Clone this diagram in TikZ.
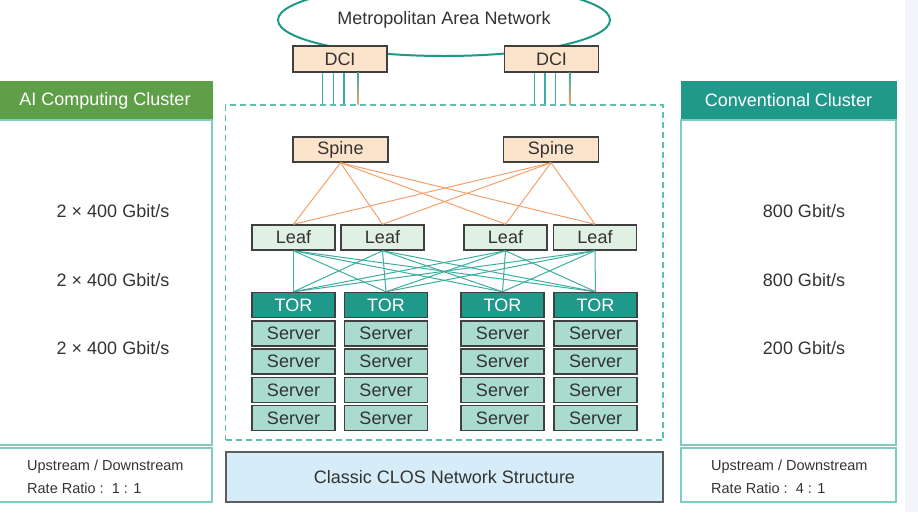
\documentclass[tikz,border=0pt]{standalone}
\usepackage{fontspec}
\setmainfont{Liberation Sans}
\usetikzlibrary{shapes.geometric}

\definecolor{inkgray}{HTML}{333333}
\definecolor{boxedge}{HTML}{404040}
\definecolor{peach}{HTML}{FCE3CB}
\definecolor{leafgreen}{HTML}{E0F0E3}
\definecolor{torteal}{HTML}{1F998A}
\definecolor{serverteal}{HTML}{A9DCCE}
\definecolor{linkorange}{HTML}{F5A06B}
\definecolor{linkteal}{HTML}{3BAE9F}
\definecolor{frameteal}{HTML}{5CBFB1}
\definecolor{aigreen}{HTML}{5E9F48}
\definecolor{panelteal}{HTML}{7FCDC2}
\definecolor{closblue}{HTML}{D6ECF8}
\definecolor{stripgray}{HTML}{F4F5FA}

\begin{document}
\begin{tikzpicture}[x=1pt, y=-1pt, font=\fontsize{18pt}{21pt}\selectfont, text=inkgray,
		device/.style={draw=boxedge, line width=1.5pt, inner sep=0pt, minimum height=25pt},
		dcibox/.style={device, fill=peach, minimum width=94pt, minimum height=26pt},
		spinebox/.style={device, fill=peach, minimum width=95pt},
		leafbox/.style={device, fill=leafgreen, minimum width=83pt},
		torbox/.style={device, fill=torteal, minimum width=83pt, text=white},
		serverbox/.style={device, fill=serverteal, minimum width=83pt},
		panel/.style={draw=panelteal, line width=1.5pt, inner sep=0pt},
		clusterhead/.style={inner sep=0pt, minimum height=39pt, text=white},
		rationote/.style={anchor=west, align=left, inner sep=0pt, font=\fontsize{14.5pt}{23pt}\selectfont},
		spinelink/.style={draw=linkorange, line width=1pt},
		leaflink/.style={draw=linkteal, line width=1pt}]
		\useasboundingbox (0,0) rectangle (918,512);
		\clip (0,0) rectangle (918,512);
		\fill[stripgray] (905,0) rectangle (918,512);

		% --- left panel: AI computing cluster ---
		\node[clusterhead, fill=aigreen, draw=aigreen, minimum width=214pt] (aihead) at (105,100.5) {AI Computing Cluster};
		\node[panel, minimum width=214pt, minimum height=325pt] (aibody) at (105,282.5) {};
		\node[panel, minimum width=214pt, minimum height=54pt] (airatio) at (105,475) {};
		\node (airate1) at (113,211) {2 × 400 Gbit/s};
		\node (airate2) at (113,280) {2 × 400 Gbit/s};
		\node (airate3) at (113,348) {2 × 400 Gbit/s};
		\node[rationote] (ainote) at (27,477) {Upstream / Downstream\\Rate Ratio :\ \ 1 : 1};

		% --- right panel: conventional cluster ---
		\node[clusterhead, fill=torteal, draw=torteal, minimum width=215pt] (convhead) at (788.5,100.5) {Conventional Cluster};
		\node[panel, minimum width=215pt, minimum height=325pt] (convbody) at (788.5,282.5) {};
		\node[panel, minimum width=215pt, minimum height=54pt] (convratio) at (788.5,475) {};
		\node (convrate1) at (804,211) {800 Gbit/s};
		\node (convrate2) at (804,280) {800 Gbit/s};
		\node (convrate3) at (804,348) {200 Gbit/s};
		\node[rationote] (convnote) at (711,477) {Upstream / Downstream\\Rate Ratio :\ \ 4 : 1};

		% --- metro network and data centre interconnect ---
		\node[ellipse, draw=torteal, line width=2pt, minimum width=332pt, minimum height=72pt] (metro) at (444,20) {Metropolitan Area Network};
		\node[dcibox] (dci1) at (340,59) {DCI};
		\node[dcibox] (dci2) at (551.5,59) {DCI};

		% --- dashed fabric frame and label below ---
		\node[draw=frameteal, line width=1.5pt, dash pattern=on 6pt off 4pt, minimum width=437.5pt, minimum height=335pt] (fabric) at (444.25,272.5) {};
		\node[device, fill=closblue, draw=boxedge!85, minimum width=437pt, minimum height=50pt] (clos) at (444.5,477) {Classic CLOS Network Structure};

		% --- uplinks from DCI into the fabric ---
		\foreach \d in {1,2} {
			\foreach \dx/\w in {-17.5/1, -6.5/1.8, 4/1.5} {
				\draw[linkteal, line width=\w pt] ([xshift=\dx pt]dci\d.south) -- ([xshift=\dx pt]dci\d.south |- fabric.north);
			}
			\shade[top color=linkteal, bottom color=linkorange] ([xshift=17.25pt]dci\d.south) rectangle ([xshift=18.75pt]dci\d.south |- fabric.north);
		}

		% --- spine and leaf switches ---
		\node[spinebox] (spine1) at (340.5,149.5) {Spine};
		\node[spinebox] (spine2) at (551,149.5) {Spine};
		\foreach \i/\x in {1/293.5, 2/382.5, 3/505.5, 4/595} {
			\node[leafbox] (leaf\i) at (\x,237.5) {Leaf};
		}

		% --- TOR switches with their server stacks ---
		\foreach \i/\x in {1/293.5, 2/386, 3/502.5, 4/595.5} {
			\node[torbox] (tor\i) at (\x,305) {TOR};
			\foreach \j in {1,...,4} {
				\node[serverbox] (srv\i\j) at (\x,{305+28.3*\j}) {Server};
			}
		}

		% --- full mesh links ---
		\foreach \s in {1,2} {
			\foreach \l in {1,...,4} {
				\draw[spinelink] (spine\s.south) -- (leaf\l.north);
			}
		}
		\foreach \l in {1,...,4} {
			\foreach \t in {1,...,4} {
				\draw[leaflink] (leaf\l.south) -- (tor\t.north);
			}
		}
	\end{tikzpicture}
\end{document}
